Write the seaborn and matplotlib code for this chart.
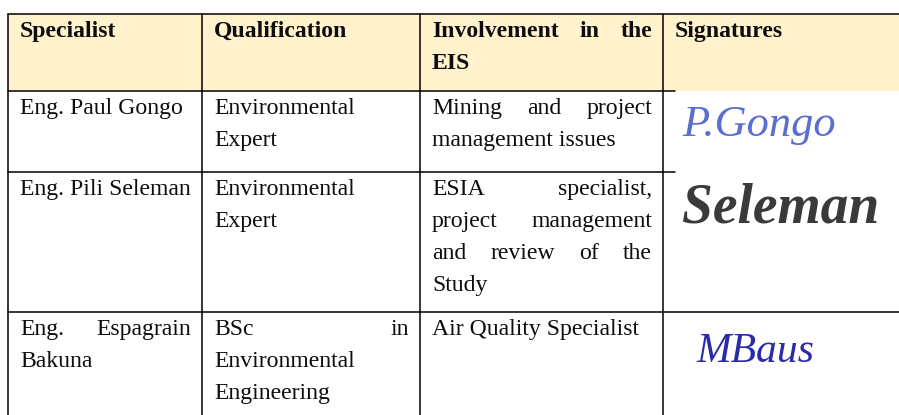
import matplotlib
matplotlib.use("Agg")
import matplotlib.pyplot as plt
from matplotlib.patches import Rectangle
import seaborn as sns

# ---- table content (lines as wrapped in the reference) ----
headers = [["Specialist"], ["Qualification"], ["Involvement in the", "EIS"], ["Signatures"]]
specialists = [["Eng. Paul Gongo"], ["Eng. Pili Seleman"], ["Eng. Espagrain", "Bakuna"]]
qualifications = [["Environmental", "Expert"], ["Environmental", "Expert"],
                  ["BSc in", "Environmental", "Engineering"]]
involvement = [["Mining and project", "management issues"],
               ["ESIA specialist,", "project management", "and review of the", "Study"],
               ["Air Quality Specialist"]]
signatures = ["P.Gongo", "Seleman", "MBaus"]
signature_colors = ["#5a6fd0", "#3a3a3a", "#2b2ba8"]

# ---- layout ----
col_edges = [8, 202, 420, 663, 899]
row_edges = [14, 91, 172, 312, 415]
pad_l, pad_r = 12, 11
line_h = 32
first_base = 23

sns.set_theme(style="white")
plt.rcParams["font.family"] = ["Liberation Serif", "DejaVu Serif"]

fig = plt.figure(figsize=(8.99, 4.15), dpi=100)
ax = fig.add_axes([0, 0, 1, 1])
ax.set_xlim(0, 899)
ax.set_ylim(415, 0)
ax.axis("off")
renderer = fig.canvas.get_renderer()

FS = 17.1
TXT = "#0d0d0d"

# header background
ax.add_patch(Rectangle((col_edges[0], row_edges[0]), col_edges[-1] - col_edges[0],
                       row_edges[1] - row_edges[0], facecolor="#FFF2CC", edgecolor="none", zorder=0))


def draw_cell(lines, ci, ri, bold=False):
    x0 = col_edges[ci] + pad_l
    x1 = col_edges[ci + 1] - pad_r
    top = row_edges[ri]
    weight = "bold" if bold else "normal"
    for li, line in enumerate(lines):
        y = top + first_base + li * line_h
        words = line.split()
        justify = (li < len(lines) - 1) and len(words) > 1
        if not justify:
            ax.text(x0, y, line, fontsize=FS, fontweight=weight, color=TXT,
                    ha="left", va="baseline")
            continue
        texts = [ax.text(0, y, w, fontsize=FS, fontweight=weight, color=TXT,
                         ha="left", va="baseline") for w in words]
        widths = [t.get_window_extent(renderer).width for t in texts]
        gap = ((x1 - x0) - sum(widths)) / (len(words) - 1)
        x = x0
        for t, wdt in zip(texts, widths):
            t.set_x(x)
            x += wdt + gap


for ci, h in enumerate(headers):
    draw_cell(h, ci, 0, bold=True)
for ri in range(3):
    draw_cell(specialists[ri], 0, ri + 1)
    draw_cell(qualifications[ri], 1, ri + 1)
    draw_cell(involvement[ri], 2, ri + 1)

# signatures (rendered as handwritten-style italic text)
sig_pos = [(682, 136, 32), (682, 222, 40), (696, 362, 30)]
for s, c, (x, y, fs) in zip(signatures, signature_colors, sig_pos):
    ax.text(x, y, s, fontsize=fs, fontstyle="italic", color=c, ha="left", va="baseline",
            family=["Liberation Serif"], fontweight="bold" if c == "#3a3a3a" else "normal")

# grid lines
lw = 1.1
ax.plot([col_edges[0], col_edges[-1]], [row_edges[0]] * 2, color="black", lw=lw)
ax.plot([col_edges[0], 675], [row_edges[1]] * 2, color="black", lw=lw)
ax.plot([col_edges[0], 675], [row_edges[2]] * 2, color="black", lw=lw)
ax.plot([col_edges[0], col_edges[-1]], [row_edges[3]] * 2, color="black", lw=lw)
for x in col_edges[:-1]:
    ax.plot([x, x], [row_edges[0], row_edges[-1]], color="black", lw=lw)

fig.savefig("out.png", dpi=100)
